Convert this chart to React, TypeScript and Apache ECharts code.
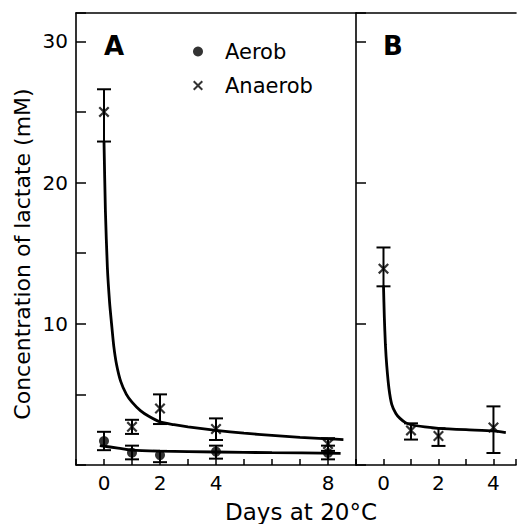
import React, { useEffect, useRef } from "react";
import * as echarts from "echarts";

const FONT = "'DejaVu Sans', sans-serif";

// Panel A — measured points
const aerobDays = [0, 1, 2, 4, 8];
const aerobValues = [1.7, 0.87, 0.7, 0.95, 0.85];
const aerobLow = [1.05, 0.4, 0.2, 0.45, 0.4];
const aerobHigh = [2.35, 1.37, 1.0, 1.37, 1.37];

const anaerobADays = [0, 1, 2, 4, 8];
const anaerobAValues = [25.0, 2.7, 4.0, 2.55, 1.48];
const anaerobALow = [22.9, 2.2, 2.9, 1.77, 1.0];
const anaerobAHigh = [26.6, 3.2, 5.0, 3.3, 1.9];

// Panel B — measured points
const anaerobBDays = [0, 1, 2, 4];
const anaerobBValues = [13.9, 2.45, 2.05, 2.65];
const anaerobBLow = [12.65, 1.8, 1.35, 0.85];
const anaerobBHigh = [15.4, 2.95, 2.6, 4.15];

// Fitted curves
const curveAnaerobADays = [0, 0.05, 0.12, 0.2, 0.27, 0.35, 0.45, 0.6, 0.8, 1.0, 1.3, 1.6, 2, 2.5, 3, 4, 5, 6, 7, 8, 8.55];
const curveAnaerobAValues = [22.9, 18, 14, 11.5, 10, 8.4, 7.1, 5.9, 5.0, 4.45, 3.85, 3.45, 3.05, 2.85, 2.7, 2.45, 2.25, 2.1, 1.95, 1.85, 1.8];
const curveAerobADays = [-0.15, 0.5, 1, 2, 4, 6, 8.45];
const curveAerobAValues = [1.37, 1.2, 1.05, 0.98, 0.92, 0.87, 0.83];
const curveAnaerobBDays = [0, 0.03, 0.07, 0.12, 0.2, 0.3, 0.45, 0.6, 0.8, 1, 1.5, 2, 3, 4, 4.45];
const curveAnaerobBValues = [12.7, 10.5, 8.5, 7.0, 5.4, 4.3, 3.65, 3.3, 3.0, 2.85, 2.7, 2.6, 2.5, 2.42, 2.3];

const xLabelsA = [0, 2, 4, 8];
const xLabelsB = [0, 2, 4];
const yLabels = [10, 20, 30];

const X_PATH =
  "path://M0,1.4L1.4,0L5,3.6L8.6,0L10,1.4L6.4,5L10,8.6L8.6,10L5,6.4L1.4,10L0,8.6L3.6,5Z";

const zip2 = (a: number[], b: number[]) => a.map((v, i) => [v, b[i]]);
const zip3 = (a: number[], b: number[], c: number[]) => a.map((v, i) => [v, b[i], c[i]]);

function errorRender(params: any, api: any) {
  const x = api.value(0);
  const lo = api.coord([x, api.value(1)]);
  const hi = api.coord([x, api.value(2)]);
  const w = 7;
  const st = { stroke: "#000", lineWidth: 2 };
  return {
    type: "group",
    children: [
      { type: "line", shape: { x1: lo[0], y1: lo[1], x2: hi[0], y2: hi[1] }, style: st },
      { type: "line", shape: { x1: lo[0] - w, y1: lo[1], x2: lo[0] + w, y2: lo[1] }, style: st },
      { type: "line", shape: { x1: hi[0] - w, y1: hi[1], x2: hi[0] + w, y2: hi[1] }, style: st },
    ],
  };
}

export default function App() {
  const ref = useRef<HTMLDivElement>(null);
  useEffect(() => {
    document.body.style.margin = "0";
    const chart = echarts.init(ref.current!, null, { renderer: "svg" });
    const axisLine = { show: true, onZero: false, lineStyle: { color: "#000", width: 1.6 } };
    const xLabel = (list: number[]) => ({
      fontSize: 20,
      fontFamily: FONT,
      color: "#000",
      margin: 8,
      formatter: (v: number) => (list.includes(v) ? String(v) : ""),
    });
    const option: any = {
      animation: false,
      backgroundColor: "#fff",
      grid: [
        { left: 76, top: 13, width: 280, height: 452 },
        { left: 356, top: 13, width: 163, height: 452 },
      ],
      xAxis: [
        {
          type: "value", gridIndex: 0, min: -1, max: 9, interval: 1,
          axisLine, splitLine: { show: false },
          axisTick: { inside: true, length: 6, lineStyle: { color: "#000", width: 1.5 } },
          axisLabel: xLabel(xLabelsA),
        },
        {
          type: "value", gridIndex: 1, min: -1, max: 4.82, interval: 1,
          axisLine, splitLine: { show: false },
          axisTick: { inside: true, length: 6, lineStyle: { color: "#000", width: 1.5 } },
          axisLabel: xLabel(xLabelsB),
        },
        {
          type: "value", gridIndex: 0, position: "top", min: -1, max: 9,
          axisLine, axisTick: { show: false }, axisLabel: { show: false }, splitLine: { show: false },
        },
        {
          type: "value", gridIndex: 1, position: "top", min: -1, max: 4.82,
          axisLine, axisTick: { show: false }, axisLabel: { show: false }, splitLine: { show: false },
        },
      ],
      yAxis: [
        {
          type: "value", gridIndex: 0, min: 0, max: 32, interval: 5,
          axisLine, splitLine: { show: false },
          axisTick: { inside: true, length: 10, lineStyle: { color: "#000", width: 1.5 } },
          axisLabel: {
            fontSize: 20, fontFamily: FONT, color: "#000", margin: 8,
            formatter: (v: number) => (yLabels.includes(v) ? String(v) : ""),
          },
        },
        {
          type: "value", gridIndex: 1, min: 0, max: 32, interval: 10,
          axisLine, splitLine: { show: false },
          axisTick: { inside: true, length: 10, lineStyle: { color: "#000", width: 1.5 } },
          axisLabel: { show: false },
        },
      ],
      legend: {
        orient: "vertical",
        left: 188,
        top: 36,
        itemWidth: 10,
        itemHeight: 10,
        itemGap: 13,
        textStyle: { fontSize: 21, fontFamily: FONT, color: "#000", padding: [0, 0, 0, 17] },
        data: [
          { name: "Aerob", icon: "circle" },
          { name: "Anaerob", icon: X_PATH },
        ],
      },
      graphic: [
        {
          type: "text", x: 104, y: 46,
          style: { text: "A", fontSize: 26, fontWeight: "bold", fontFamily: FONT, fill: "#000", textVerticalAlign: "middle" },
        },
        {
          type: "text", x: 383, y: 46,
          style: { text: "B", fontSize: 26, fontWeight: "bold", fontFamily: FONT, fill: "#000", textVerticalAlign: "middle" },
        },
        {
          type: "text", x: 301, y: 512,
          style: { text: "Days at 20°C", fontSize: 23, fontFamily: FONT, fill: "#000", textAlign: "center", textVerticalAlign: "middle" },
        },
        {
          type: "text", x: 22, y: 254, rotation: Math.PI / 2,
          style: { text: "Concentration of lactate (mM)", fontSize: 22, fontFamily: FONT, fill: "#000", textAlign: "center", textVerticalAlign: "middle" },
        },
      ],
      series: [
        {
          name: "Aerob fit", type: "line", xAxisIndex: 0, yAxisIndex: 0, smooth: 0.3, showSymbol: false,
          lineStyle: { color: "#000", width: 2.8 }, data: zip2(curveAerobADays, curveAerobAValues),
        },
        {
          name: "Anaerob fit A", type: "line", xAxisIndex: 0, yAxisIndex: 0, smooth: 0.2, showSymbol: false,
          lineStyle: { color: "#000", width: 2.8 }, data: zip2(curveAnaerobADays, curveAnaerobAValues),
        },
        {
          name: "Anaerob fit B", type: "line", xAxisIndex: 1, yAxisIndex: 1, smooth: 0.2, showSymbol: false,
          lineStyle: { color: "#000", width: 2.8 }, data: zip2(curveAnaerobBDays, curveAnaerobBValues),
        },
        {
          name: "Aerob err", type: "custom", xAxisIndex: 0, yAxisIndex: 0, renderItem: errorRender,
          encode: { x: 0, y: [1, 2] }, data: zip3(aerobDays, aerobLow, aerobHigh),
        },
        {
          name: "Anaerob err A", type: "custom", xAxisIndex: 0, yAxisIndex: 0, renderItem: errorRender,
          encode: { x: 0, y: [1, 2] }, data: zip3(anaerobADays, anaerobALow, anaerobAHigh),
        },
        {
          name: "Anaerob err B", type: "custom", xAxisIndex: 1, yAxisIndex: 1, renderItem: errorRender,
          encode: { x: 0, y: [1, 2] }, data: zip3(anaerobBDays, anaerobBLow, anaerobBHigh),
        },
        {
          name: "Aerob", type: "scatter", xAxisIndex: 0, yAxisIndex: 0, symbol: "circle", symbolSize: 10,
          itemStyle: { color: "#000" }, data: zip2(aerobDays, aerobValues),
        },
        {
          name: "Anaerob", type: "scatter", xAxisIndex: 0, yAxisIndex: 0, symbol: X_PATH, symbolSize: 11,
          itemStyle: { color: "#000" }, data: zip2(anaerobADays, anaerobAValues),
        },
        {
          name: "Anaerob", type: "scatter", xAxisIndex: 1, yAxisIndex: 1, symbol: X_PATH, symbolSize: 11,
          itemStyle: { color: "#000" }, data: zip2(anaerobBDays, anaerobBValues),
        },
      ],
    };
    chart.setOption(option);
    return () => chart.dispose();
  }, []);
  return <div ref={ref} style={{ width: 519, height: 524 }} />;
}
